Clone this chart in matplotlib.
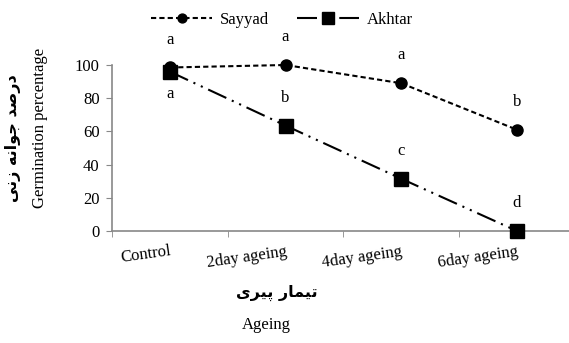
import matplotlib.pyplot as plt
import numpy as np

# data
categories = ['Control', '2day ageing', '4day ageing', '6day ageing']
sayyad = [98.5, 100, 89, 61]
akhtar = [96, 63.5, 31.5, 0]
sayyad_letters = ['a', 'a', 'a', 'b']
akhtar_letters = ['a', 'b', 'c', 'd']

# persian labels: shaped presentation forms in logical order, reversed for display
ylabel_fa = '\uFEA9\uFEAD\uFEBB\uFEAA \uFE9F\uFEEE\uFE8D\uFEE7\uFEEA \uFEAF\uFEE7\uFEF0'[::-1]
xlabel_fa = '\uFE97\uFEF4\uFEE4\uFE8E\uFEAD \uFB58\uFEF4\uFEAE\uFEEF'[::-1]

plt.rcParams['font.family'] = ['Liberation Serif', 'DejaVu Serif']
fa_font = ['DejaVu Sans']

fig = plt.figure(figsize=(5.69, 3.43), dpi=100)
ax = fig.add_axes([112/569, 1-231/343, 462.8/569, 166/343])

x = np.arange(len(categories))
ax.plot(x, sayyad, color='black', lw=1.5, linestyle=(0, (2.5, 1.5)),
        marker='o', ms=8, label='Sayyad', clip_on=False, zorder=3)
ax.plot(x, akhtar, color='black', lw=1.5, linestyle=(0, (9.6, 2.9, 1, 2.9, 1, 2.9)),
        marker='s', ms=10, label='Akhtar', clip_on=False, zorder=3)

for i in range(len(x)):
    ax.annotate(sayyad_letters[i], (x[i], sayyad[i]), xytext=(0, 20),
                textcoords='offset points', ha='center', va='center', fontsize=12)
    off = -16 if i == 0 else 20
    ax.annotate(akhtar_letters[i], (x[i], akhtar[i]), xytext=(0, off),
                textcoords='offset points', ha='center', va='center', fontsize=12)

ax.set_xlim(-0.5, 3.5)
ax.set_ylim(0, 100)
ax.set_yticks([0, 20, 40, 60, 80, 100])
ax.set_xticks(x)
ax.set_xticklabels(categories, rotation=8, ha='right', va='top', rotation_mode='anchor')
ax.set_xticks(np.arange(-0.5, 4, 1), minor=True)
ax.tick_params(axis='x', which='major', length=0, pad=9, labelsize=12)
ax.tick_params(axis='x', which='minor', length=4, color='#888888', direction='out')
ax.tick_params(axis='y', length=4, color='#888888', pad=5, labelsize=12)

for s in ['top', 'right']:
    ax.spines[s].set_visible(False)
for s in ['left', 'bottom']:
    ax.spines[s].set_color('#888888')
    ax.spines[s].set_linewidth(1.2)

# axis titles
fig.text(13/569, 1-138/343, ylabel_fa, rotation=90, ha='center', va='center',
         fontsize=11.5, fontweight='bold', family=fa_font)
fig.text(40/569, 1-128/343, 'Germination percentage', rotation=90, ha='center',
         va='center', fontsize=12)
fig.text(277/569, 1-293/343, xlabel_fa, ha='center', va='center',
         fontsize=11.5, fontweight='bold', family=fa_font)
fig.text(266/569, 1-325/343, 'Ageing', ha='center', va='center', fontsize=12)

fig.legend(loc='upper center', bbox_to_anchor=(0.495, 1.01), ncol=2, frameon=False,
           prop={'family': 'Liberation Serif', 'size': 12}, markerscale=0.8,
           handlelength=3.7, handletextpad=0.45, columnspacing=1.7)

fig.savefig('out.png', dpi=100)
